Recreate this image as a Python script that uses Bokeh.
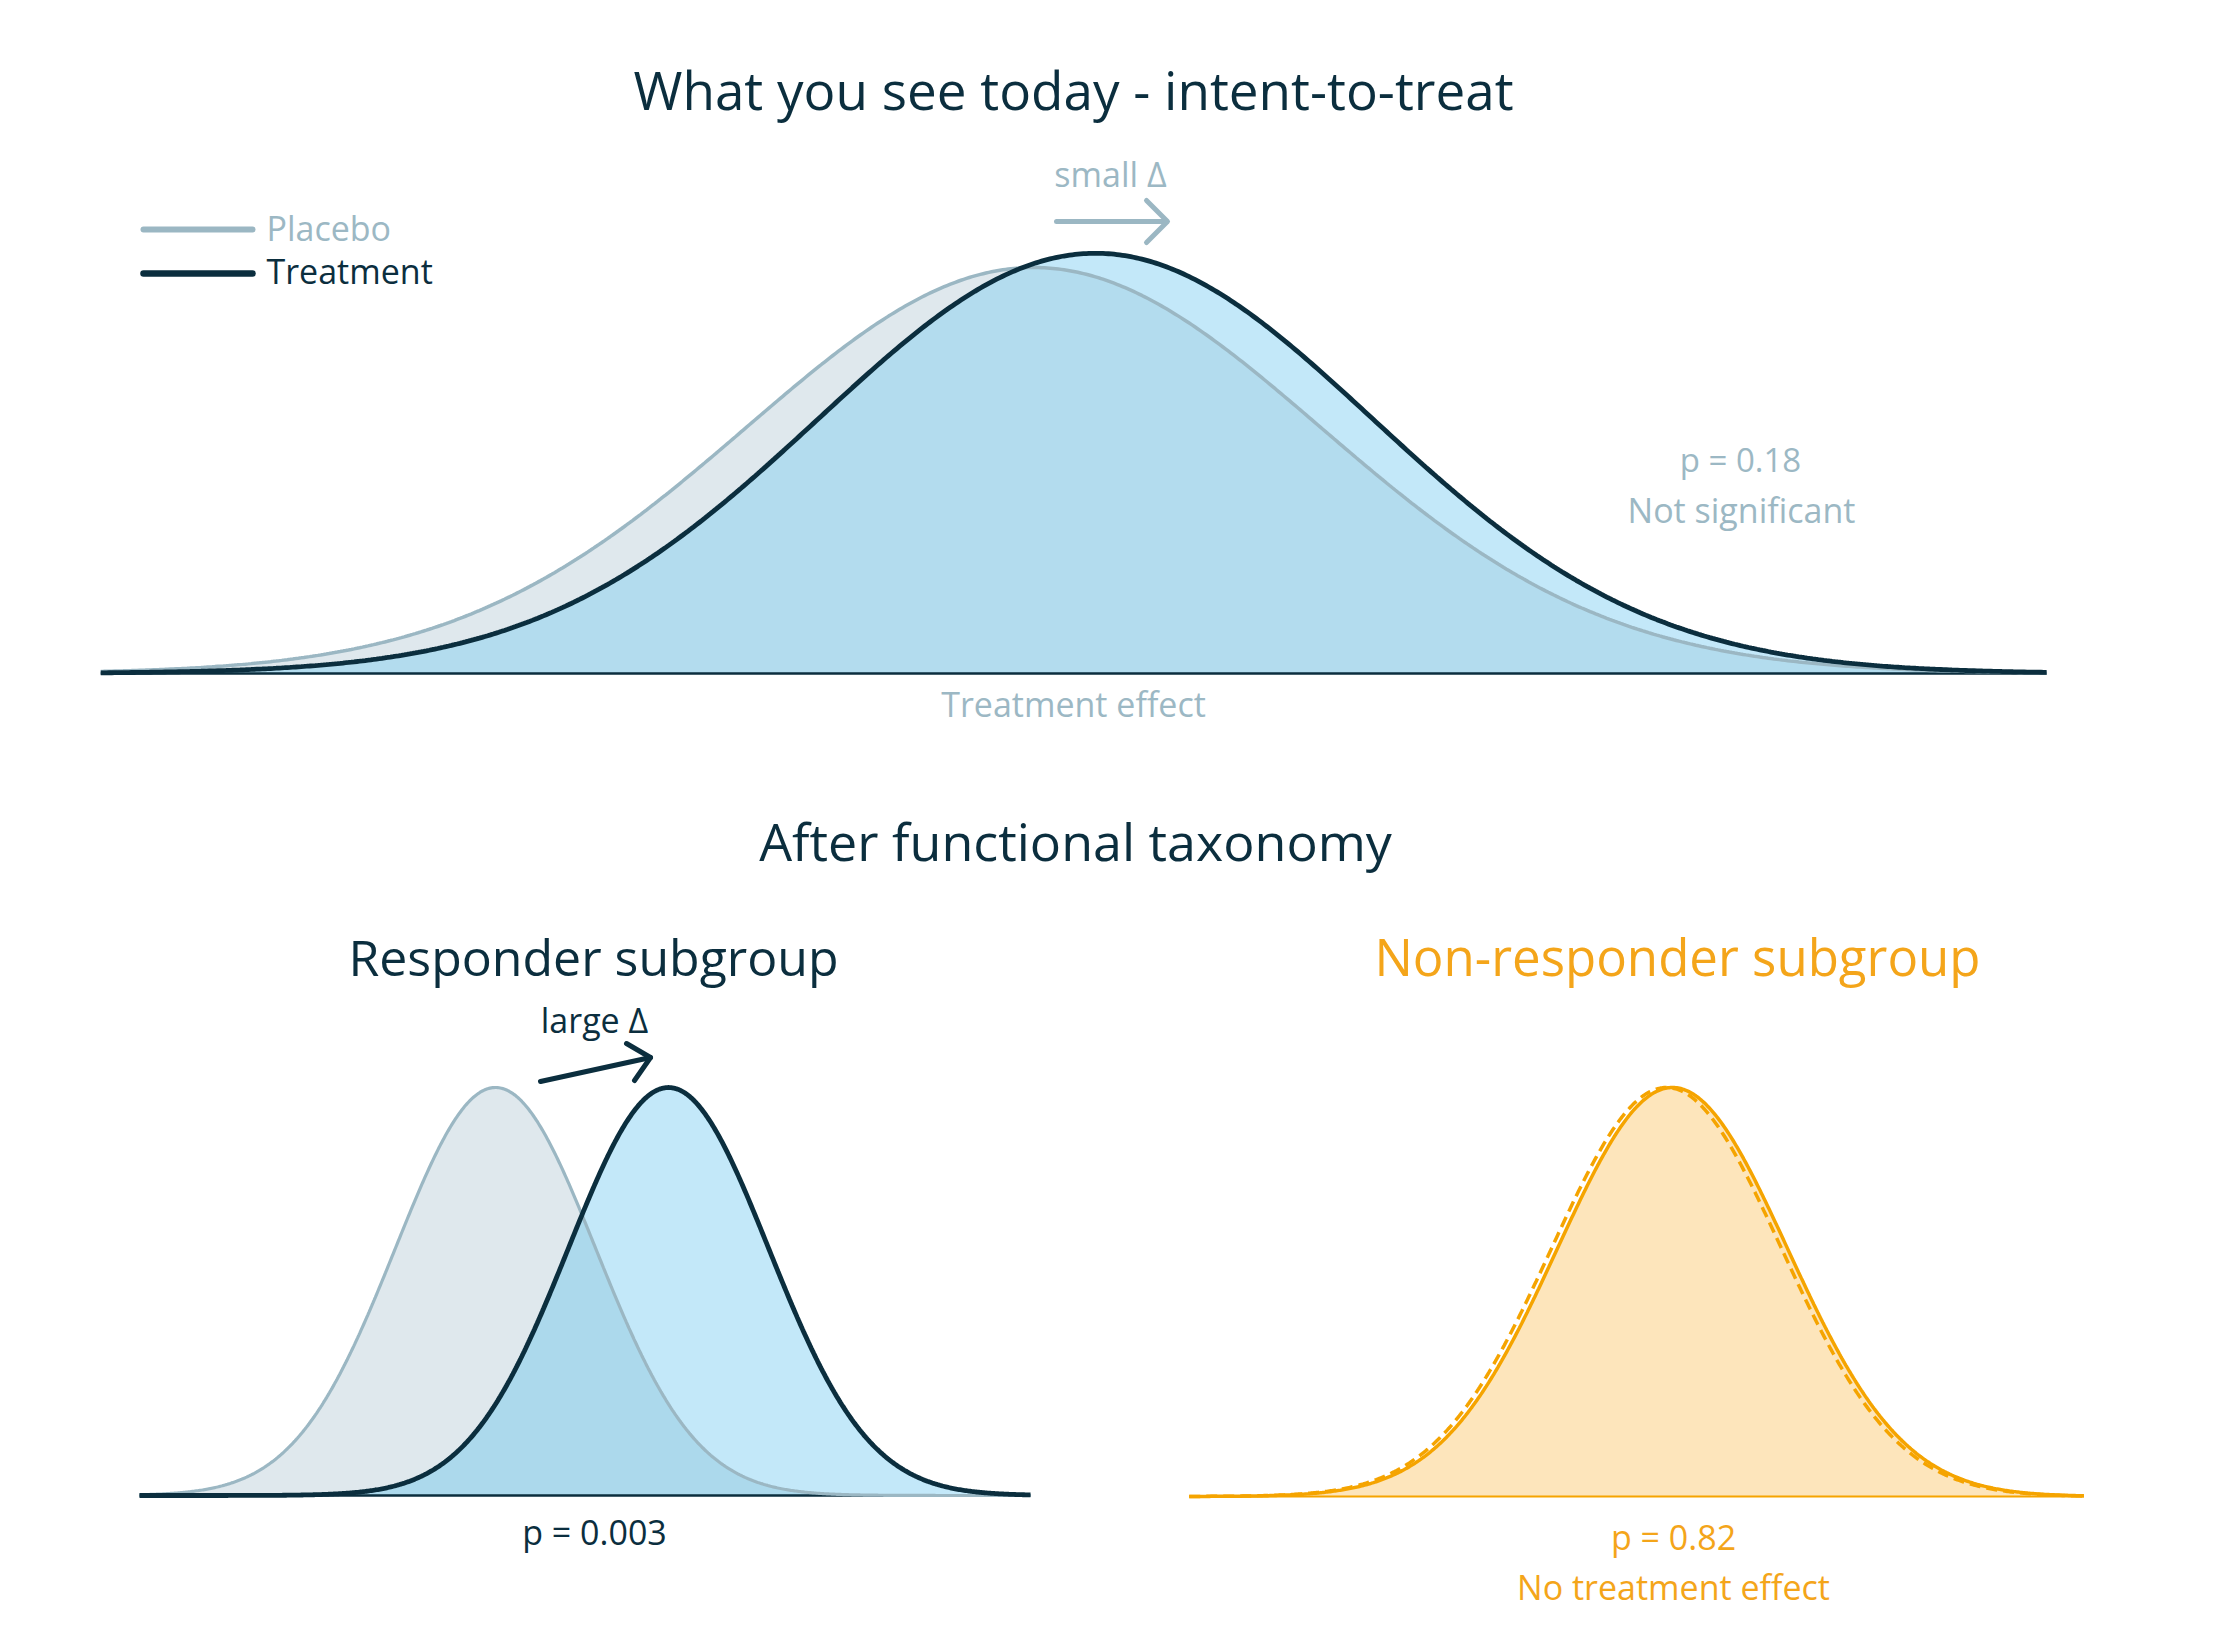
import numpy as np
from bokeh.plotting import figure
from bokeh.models import Range1d, Label
from bokeh.layouts import column, row
from bokeh.embed import file_html
from bokeh.resources import INLINE

# ------------------------------------------------------------------
# Data (x in units of the placebo SD of each panel, y relative to the placebo peak)
# ------------------------------------------------------------------
groups = ["Placebo", "Treatment"]

itt_mean = [0.0, 0.216]
itt_sd = [1.0, 0.965]
itt_peak = [1.0, 1.035]
itt_domain = [-3.25, 3.53]
itt_p_text = "p = 0.18"
itt_verdict = "Not significant"

resp_mean = [0.0, 1.73]
resp_sd = [1.0, 1.0]
resp_peak = [1.0, 1.0]
resp_domain = [-3.56, 5.35]
resp_p_text = "p = 0.003"

nonresp_mean = [0.0, 0.052]
nonresp_sd = [1.0, 1.0]
nonresp_peak = [1.0, 1.0]
nonresp_domain = [-4.15, 3.63]
nonresp_p_text = "p = 0.82"
nonresp_verdict = "No treatment effect"

# ------------------------------------------------------------------
# Styles
# ------------------------------------------------------------------
FONT = "Open Sans"
DARK = "#0b2e3e"
GREY = "#9bb7c3"
GREY_TXT = "#9cb8c4"
PLACEBO_FILL = "#dfe8ed"
TREAT_FILL = "#c3e8f9"
OVERLAP_FILL = "#b3dcee"
ORANGE = "#f5a400"
ORANGE_FILL = "#fde5bb"
ORANGE_TXT = "#f4a51a"


class Panel:
    """A figure placed on the page; helpers convert page pixels to data units."""

    def __init__(self, ox, oy, w, h, px0, sx, py0, sy):
        self.X = lambda px: (px - px0) / sx
        self.Y = lambda py: (py0 - py) / sy
        self.fig = figure(
            width=w, height=h,
            x_range=Range1d(self.X(ox), self.X(ox + w)),
            y_range=Range1d(self.Y(oy + h), self.Y(oy)),
            x_axis_type=None, y_axis_type=None,
            toolbar_location=None, output_backend="svg",
            min_border=0, outline_line_color=None,
            background_fill_color="white", border_fill_color="white",
        )
        self.fig.grid.visible = False

    def label(self, px, py, text, size, color, align="center"):
        # py is the intended alphabetic baseline on the page
        self.fig.add_layout(Label(
            x=self.X(px), y=self.Y(py - 0.4 * size), text=text, text_font=FONT,
            text_font_size=f"{size}px", text_color=color,
            text_align=align, text_baseline="alphabetic"))

    def pline(self, pts, color, width):
        self.fig.line([self.X(a) for a, _ in pts], [self.Y(b) for _, b in pts],
                      line_color=color, line_width=width,
                      line_cap="round", line_join="round")


def bell(mean, sd, peak, xs):
    return peak * np.exp(-0.5 * ((xs - mean) / sd) ** 2)


# ------------------------------------------------------------------
# Top panel: intent-to-treat
# ------------------------------------------------------------------
top = Panel(0, 0, 2220, 900, 1033, 287, 673, 406)
f = top.fig
xs = np.linspace(itt_domain[0], itt_domain[1], 700)
plc = bell(itt_mean[0], itt_sd[0], itt_peak[0], xs)
trt = bell(itt_mean[1], itt_sd[1], itt_peak[1], xs)
f.varea(x=xs, y1=0, y2=plc, fill_color=PLACEBO_FILL)
f.varea(x=xs, y1=0, y2=trt, fill_color=TREAT_FILL)
f.varea(x=xs, y1=0, y2=np.minimum(plc, trt), fill_color=OVERLAP_FILL)
f.line(itt_domain, [0, 0], line_color=DARK, line_width=2.5)
f.line(xs, plc, line_color=GREY, line_width=3.5)
f.line(xs, trt, line_color=DARK, line_width=4.8)

top.label(1073, 110, "What you see today - intent-to-treat", 53, DARK)
# legend
top.pline([(143, 229), (252, 229)], GREY, 6)
top.pline([(143, 273), (252, 273)], DARK, 6.5)
top.label(266, 241, groups[0], 34, GREY_TXT, align="left")
top.label(266, 284, groups[1], 34, DARK, align="left")
# small delta arrow
top.label(1110, 187, "small Δ", 34, GREY_TXT)
top.pline([(1056, 221), (1166, 221)], GREY, 5)
top.pline([(1146, 200), (1167, 221), (1146, 242)], GREY, 5)
# stats
top.label(1740, 472, itt_p_text, 33, GREY_TXT)
top.label(1741, 523, itt_verdict, 34, GREY_TXT)
top.label(1073, 717, "Treatment effect", 34, GREY_TXT)
top.label(1075, 861, "After functional taxonomy", 52, DARK)

# ------------------------------------------------------------------
# Bottom-left: responder subgroup
# ------------------------------------------------------------------
bl = Panel(0, 900, 1110, 744, 495, 100, 1495, 408)
g = bl.fig
xs = np.linspace(resp_domain[0], resp_domain[1], 700)
plc = bell(resp_mean[0], resp_sd[0], resp_peak[0], xs)
trt = bell(resp_mean[1], resp_sd[1], resp_peak[1], xs)
g.varea(x=xs, y1=0, y2=plc, fill_color=PLACEBO_FILL)
g.varea(x=xs, y1=0, y2=trt, fill_color=TREAT_FILL)
g.varea(x=xs, y1=0, y2=np.minimum(plc, trt), fill_color="#acd9ec")
g.line(resp_domain, [0, 0], line_color=DARK, line_width=2.5)
g.line(xs, plc, line_color=GREY, line_width=3.2)
g.line(xs, trt, line_color=DARK, line_width=4.8)

bl.label(593, 976, "Responder subgroup", 50, DARK)
bl.label(594, 1033, "large Δ", 34, DARK)
bl.pline([(540, 1081), (650, 1057)], DARK, 5)
bl.pline([(626, 1043), (650, 1057), (634, 1080)], DARK, 5)
bl.label(594, 1545, resp_p_text, 34, DARK)

# ------------------------------------------------------------------
# Bottom-right: non-responder subgroup
# ------------------------------------------------------------------
br = Panel(1110, 900, 1110, 744, 1666, 115, 1496, 409)
h = br.fig
xs = np.linspace(nonresp_domain[0], nonresp_domain[1], 700)
plc = bell(nonresp_mean[0], nonresp_sd[0], nonresp_peak[0], xs)
trt = bell(nonresp_mean[1], nonresp_sd[1], nonresp_peak[1], xs)
h.varea(x=xs, y1=0, y2=trt, fill_color=ORANGE_FILL)
h.line(nonresp_domain, [0, 0], line_color=ORANGE, line_width=2)
h.line(xs, plc, line_color=ORANGE, line_width=3.5, line_dash="11 6")
h.line(xs, trt, line_color=ORANGE, line_width=3.5)

br.label(1677, 976, "Non-responder subgroup", 51, ORANGE_TXT)
br.label(1673, 1550, nonresp_p_text, 34, ORANGE_TXT)
br.label(1673, 1600, nonresp_verdict, 34, ORANGE_TXT)

layout = column(top.fig, row(bl.fig, br.fig, spacing=0), spacing=0)
open("out.html", "w").write(file_html(layout, INLINE))
